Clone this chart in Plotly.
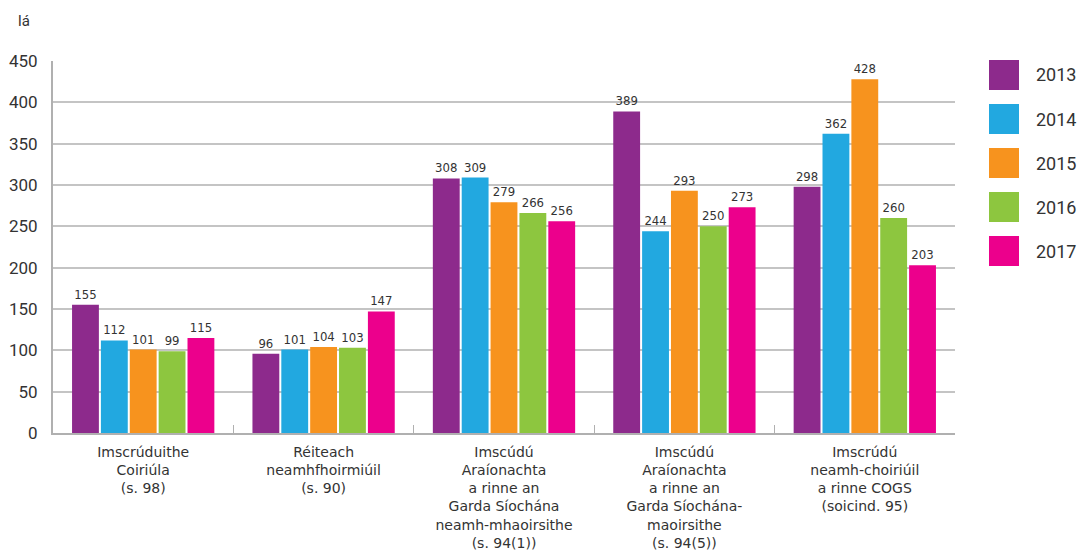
import plotly.graph_objects as go

# Dados
categorias = [
    "Imscrúduithe<br>Coiriúla<br>(s. 98)",
    "Réiteach<br>neamhfhoirmiúil<br>(s. 90)",
    "Imscúdú<br>Araíonachta<br>a rinne an<br>Garda Síochána<br>neamh-mhaoirsithe<br>(s. 94(1))",
    "Imscúdú<br>Araíonachta<br>a rinne an<br>Garda Síochána-<br>maoirsithe<br>(s. 94(5))",
    "Imscrúdú<br>neamh-choiriúil<br>a rinne COGS<br>(soicind. 95)",
]
anos = ["2013", "2014", "2015", "2016", "2017"]
valores_2013 = [155, 96, 308, 389, 298]
valores_2014 = [112, 101, 309, 244, 362]
valores_2015 = [101, 104, 279, 293, 428]
valores_2016 = [99, 103, 266, 250, 260]
valores_2017 = [115, 147, 256, 273, 203]
series = [valores_2013, valores_2014, valores_2015, valores_2016, valores_2017]

CORES = ["#8D2A8C", "#22A8E0", "#F7931E", "#8DC63F", "#EC008C"]
FONTE = "Roboto"
COR_TEXTO = "#333333"

# Geometria do gráfico (pixels)
W, H = 1083, 559
M_L, M_R, M_T, M_B = 53, 128, 61, 126
plot_w = W - M_L - M_R
plot_h = H - M_T - M_B

fig = go.Figure()
for ano, vals, cor in zip(anos, series, CORES):
    fig.add_trace(go.Bar(
        x=categorias, y=vals, name=ano,
        marker=dict(color=cor, line=dict(width=0)),
        text=vals, textposition="outside",
        textfont=dict(family="DejaVu Sans Condensed", size=13, color=COR_TEXTO),
        cliponaxis=False, showlegend=False,
    ))

# Legenda manual com quadrados grandes
for i, (ano, cor) in enumerate(zip(anos, CORES)):
    topo = 60 + i * 44
    y0 = (H - M_B - (topo + 30)) / plot_h
    y1 = (H - M_B - topo) / plot_h
    x0 = (989 - M_L) / plot_w
    x1 = (1019 - M_L) / plot_w
    fig.add_shape(type="rect", xref="paper", yref="paper",
                  x0=x0, x1=x1, y0=y0, y1=y1,
                  fillcolor=cor, line=dict(width=0))
    fig.add_annotation(text=ano, xref="paper", yref="paper",
                       x=(1034 - M_L) / plot_w, y=(y0 + y1) / 2,
                       xanchor="left", yanchor="middle", showarrow=False,
                       font=dict(family=FONTE, size=18, color=COR_TEXTO))

# Unidade do eixo y
fig.add_annotation(text="lá", xref="paper", yref="paper",
                   x=(16 - M_L) / plot_w, y=(H - M_B - 21) / plot_h,
                   xanchor="left", yanchor="middle", showarrow=False,
                   font=dict(family=FONTE, size=15, color=COR_TEXTO))

fig.update_layout(
    width=W, height=H,
    margin=dict(l=M_L, r=M_R, t=M_T, b=M_B),
    paper_bgcolor="white", plot_bgcolor="white",
    barmode="group", bargap=0.2, bargroupgap=0.07,
    showlegend=False,
    xaxis=dict(
        tickson="boundaries", ticks="inside", ticklen=8, tickcolor="#b0b0b0",
        showline=True, linecolor="#b0b0b0", linewidth=2,
        tickfont=dict(family="DejaVu Sans", size=14, color=COR_TEXTO),
        tickangle=0, ticklabelstandoff=5, automargin=False,
    ),
    yaxis=dict(
        range=[0, 450], dtick=50,
        showgrid=True, gridcolor="#c4c4c4", gridwidth=1.5,
        showline=True, linecolor="#b0b0b0", linewidth=2,
        zeroline=False, automargin=False,
        tickfont=dict(family=FONTE, size=17, color=COR_TEXTO),
        ticks="", ticklabelstandoff=10,
    ),
)

# remove a margem padrão do body para o gráfico ocupar a janela inteira
fig.write_html("out.html", config={"displayModeBar": False},
               post_script="document.body.style.margin='0';")
